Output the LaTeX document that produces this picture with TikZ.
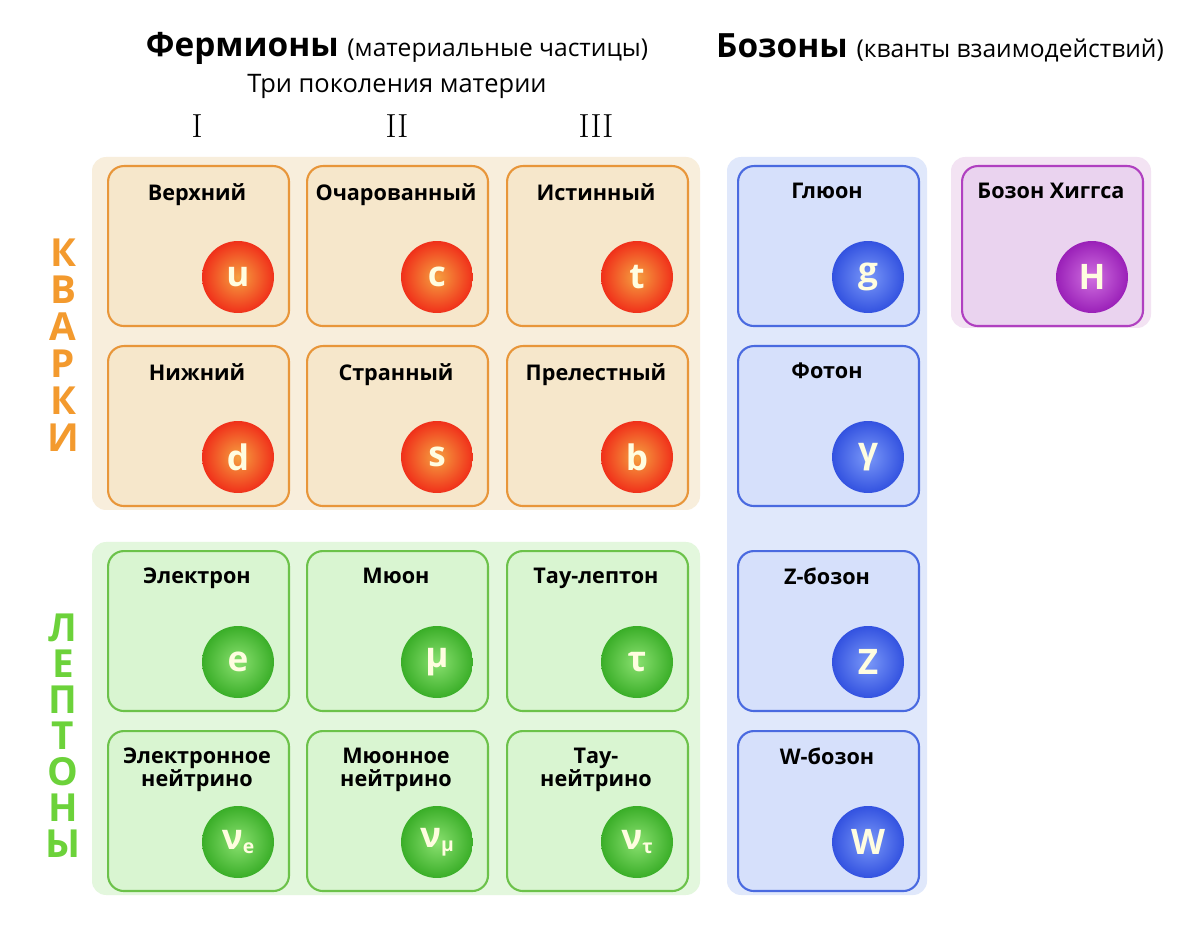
\documentclass[tikz,border=0pt]{standalone}
\usepackage{fontspec}
\setmainfont{Open Sans}
\newfontfamily\numfont{Latin Modern Roman}
\usetikzlibrary{positioning}
\definecolor{qbg}{HTML}{F8EEDC}\definecolor{qfill}{HTML}{F6E7CB}\definecolor{qline}{HTML}{E8963A}
\definecolor{lbg}{HTML}{E3F7DD}\definecolor{lfill}{HTML}{D9F5D1}\definecolor{lline}{HTML}{6CC24A}
\definecolor{bbg}{HTML}{E0E8FB}\definecolor{bfill}{HTML}{D6E0FB}\definecolor{bline}{HTML}{4A6AE0}
\definecolor{hbg}{HTML}{F3E3F3}\definecolor{hfill}{HTML}{EAD3EF}\definecolor{hline}{HTML}{B040C0}
\definecolor{qin}{HTML}{F5A040}\definecolor{qout}{HTML}{F0301A}
\definecolor{lin}{HTML}{8AE070}\definecolor{lout}{HTML}{3AAE28}
\definecolor{bin}{HTML}{7A98F8}\definecolor{bout}{HTML}{3352E0}
\definecolor{hin}{HTML}{D070E0}\definecolor{hout}{HTML}{9A20B8}
\definecolor{qtitle}{HTML}{F39A2E}\definecolor{ltitle}{HTML}{6CD23A}
\tikzset{
    x=0.02cm, y=-0.02cm,
    card/.style={draw=#1line, fill=#1fill, line width=1.2pt, rounded corners=9pt,
        minimum width=3.62cm, minimum height=3.2cm, anchor=north west},
    bgbox/.style={fill=#1bg, rounded corners=8pt},
    label/.style={font=\bfseries\fontsize{12.3}{15}\selectfont, align=center, anchor=north},
    ball/.style={circle, minimum size=1.44cm, inner sep=0pt, inner color=#1in, outer color=#1out,
        text=yellow!12, font=\bfseries\fontsize{20}{20}\selectfont},
    side/.style={text=#1title, inner sep=0pt, font=\bfseries\fontsize{22}{22}\selectfont},
    gener/.style={font=\numfont\fontsize{19}{20}\selectfont}
}
\begin{document}
\begin{tikzpicture}
\useasboundingbox[fill=white] (0,0) rectangle (1200,945);
% backgrounds
\fill[bgbox=q] (92,157) rectangle (700,510);
\fill[bgbox=l] (92,542) rectangle (700,895);
\fill[bgbox=b] (727,157) rectangle (927,895);
\fill[bgbox=h] (951,157) rectangle (1151,328);
% headings
\node (ferm) at (397,48) {\fontsize{19}{24}\selectfont\bfseries Фермионы \mdseries\fontsize{14}{18}\selectfont(материальные частицы)};
\node (bos) at (940,48) {\fontsize{19}{24}\selectfont\bfseries Бозоны \mdseries\fontsize{14}{18}\selectfont(кванты взаимодействий)};
\node (gen) at (397,86) {\fontsize{14.5}{18}\selectfont Три поколения материи};
\node[gener] (g1) at (197,126) {I};
\node[gener] (g2) at (397,126) {II};
\node[gener] (g3) at (596,126) {III};
% side titles
\foreach \ch [count=\i] in {К,В,А,Р,К,И}
    \node[side=q] (kv\i) at (63,216+37*\i) {\ch};
\foreach \ch [count=\i] in {Л,Е,П,Т,О,Н,Ы}
    \node[side=l] (lp\i) at (63,592+36*\i) {\ch};
% cards
\foreach \x/\y/\c/\n/\t/\s in {
    107/165/q/u/Верхний/u, 306/165/q/c/Очарованный/c, 506/165/q/t/Истинный/t,
    107/345/q/d/Нижний/d, 306/345/q/s/Странный/s, 506/345/q/b/Прелестный/b,
    107/550/l/e/Электрон/e, 306/550/l/mu/Мюон/μ, 506/550/l/tau/Тау-лептон/τ,
    107/730/l/ne/{Электронное\\[-2pt]нейтрино}/{ν\raisebox{-2pt}{\fontsize{11}{11}\selectfont e}},
    306/730/l/nmu/{Мюонное\\[-2pt]нейтрино}/{ν\raisebox{-2pt}{\fontsize{11}{11}\selectfont μ}},
    506/730/l/ntau/{Тау-\\[-2pt]нейтрино}/{ν\raisebox{-2pt}{\fontsize{11}{11}\selectfont τ}},
    737/165/b/g/Глюон/g, 737/345/b/gam/Фотон/γ, 737/550/b/Z/Z-бозон/Z,
    737/730/b/W/W-бозон/W, 961/165/h/H/Бозон Хиггса/H}
{
    \node[card=\c] (card-\n) at (\x,\y) {};
    \node[label] (lab-\n) at (\x+90,\y+12) {\t};
    \node[ball=\c] (\n) at (\x+131,\y+112) {\s};
}
\end{tikzpicture}
\end{document}
